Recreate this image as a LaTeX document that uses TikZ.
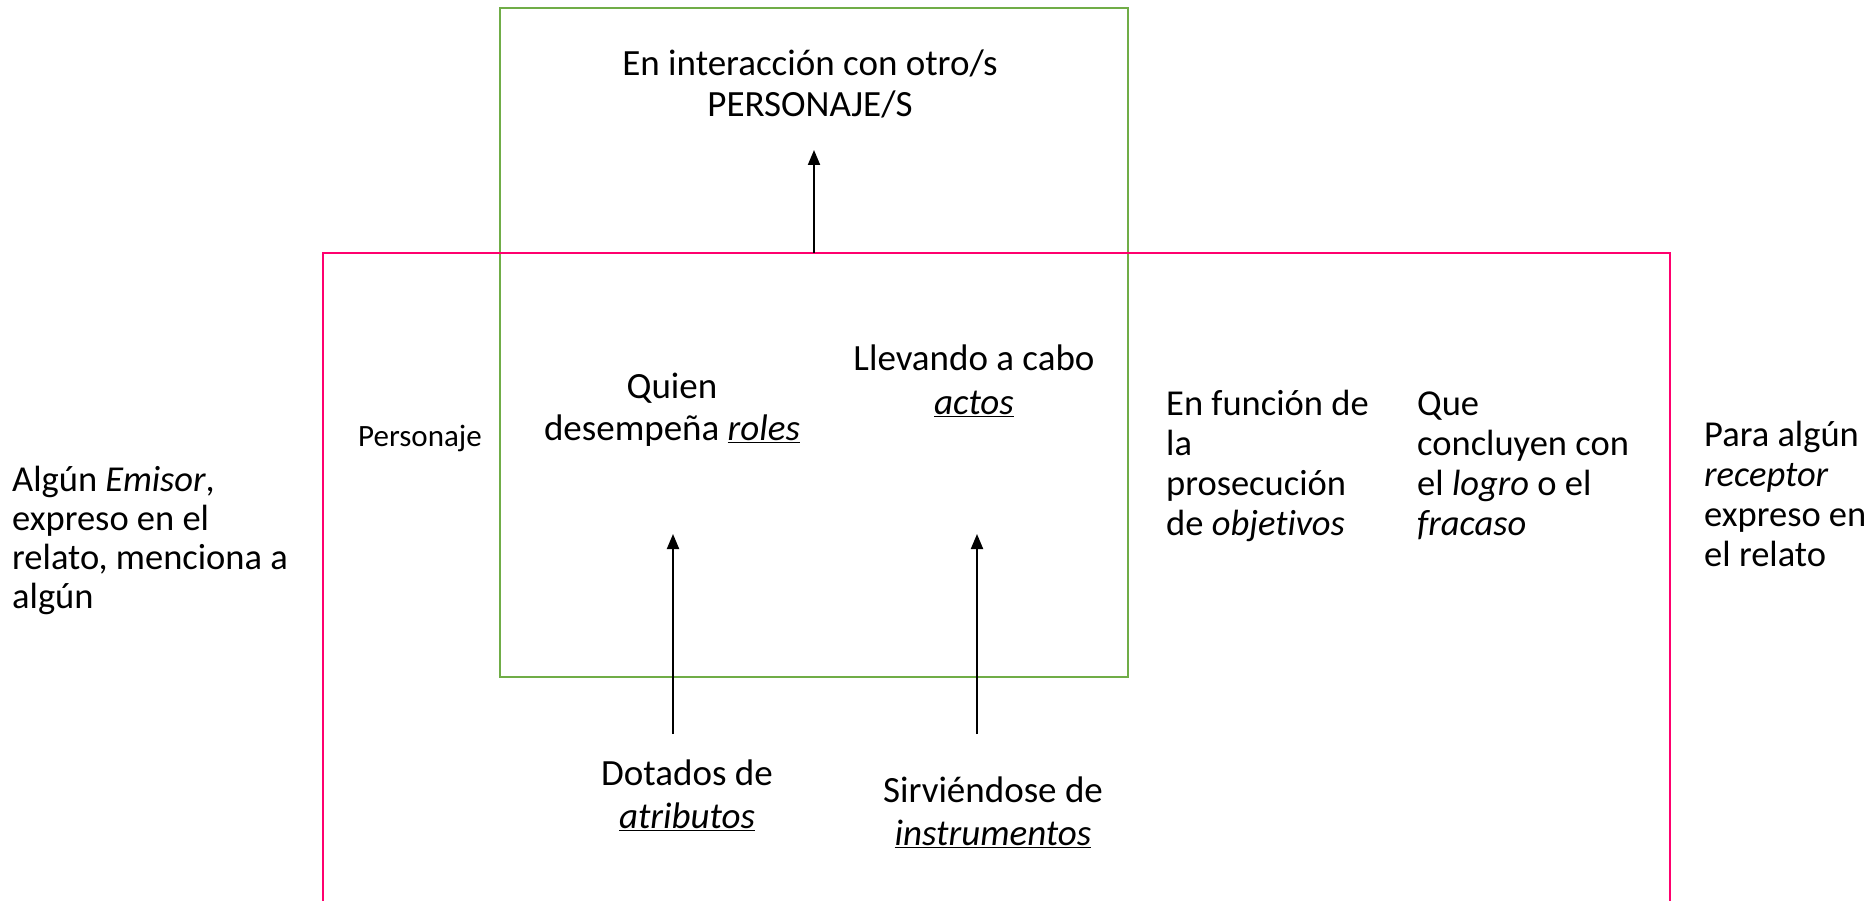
\documentclass[tikz,border=0pt]{standalone}
\usepackage{fontspec}
\setmainfont{Carlito}[Ligatures=NoCommon]
\usetikzlibrary{arrows.meta}

\definecolor{verde}{RGB}{112,173,71}
\definecolor{rosa}{RGB}{255,0,110}

\tikzset{
	texto/.style={font=\fontsize{36.5}{40}\selectfont, align=center, inner sep=0pt},
	textoizq/.style={texto, align=left},
	flecha/.style={line width=2pt, -{Triangle[length=15pt,width=12pt]}}
}

\begin{document}
\begin{tikzpicture}[x=1pt,y=-1pt]
		\useasboundingbox (0,0) rectangle (1868,901);
		
		% Personaje
		% Draw boxes
		\draw [verde, line width=2.2pt] (500,8) rectangle (1128,677);
		\draw [rosa, line width=2.8pt] (323,253) rectangle (1670,940);
		
		% Top text
		\node[texto, font=\fontsize{37}{41}\selectfont] (interaccion) at (810,84) {En interacción con otro/s\\PERSONAJE/S};
		\coordinate (arriba) at (814,253);
		\draw [flecha] (arriba) -- (814,150);
		
		% Inner texts
		\node[texto, font=\fontsize{31}{34}\selectfont] (personaje) at (420,438) {Personaje};
		\node[texto, font=\fontsize{37}{42}\selectfont] (roles) at (672,410) {Quien\\desempeña \underline{\textit{roles}}};
		\node[texto, font=\fontsize{37}{44}\selectfont] (actos) at (974,381) {Llevando a cabo\\\underline{\textit{actos}}};
		
		% Bottom texts
		\node[texto, font=\fontsize{37}{43}\selectfont] (atributos) at (687,795) {Dotados de\\\underline{\textit{atributos}}};
		\node[texto, font=\fontsize{37}{43}\selectfont] (instrumentos) at (993,812) {Sirviéndose de\\\underline{\textit{instrumentos}}};
		
		% Draw arrows
		\coordinate (pieA) at (673,734);
		\coordinate (puntaA) at (673,534);
		\coordinate (pieB) at (977,734);
		\coordinate (puntaB) at (977,534);
		\draw [flecha] (pieA) -- (puntaA);
		\draw [flecha] (pieB) -- (puntaB);
		
		% Right texts
		\node[textoizq, anchor=west] (objetivos) at (1166,466) {En función de\\la\\prosecución\\de \textit{objetivos}};
		\node[textoizq, anchor=west] (fracaso) at (1417,466) {Que\\concluyen con\\el \textit{logro} o el\\\textit{fracaso}};
		\node[textoizq, anchor=west] (receptor) at (1704,494) {Para algún\\\textit{receptor}\\expreso en\\el relato};
		
		% Left text
		\node[textoizq, anchor=west, font=\fontsize{36.5}{39}\selectfont] (emisor) at (12,540) {Algún \textit{Emisor},\\expreso en el\\relato, menciona a\\algún};
		
\end{tikzpicture}
\end{document}
